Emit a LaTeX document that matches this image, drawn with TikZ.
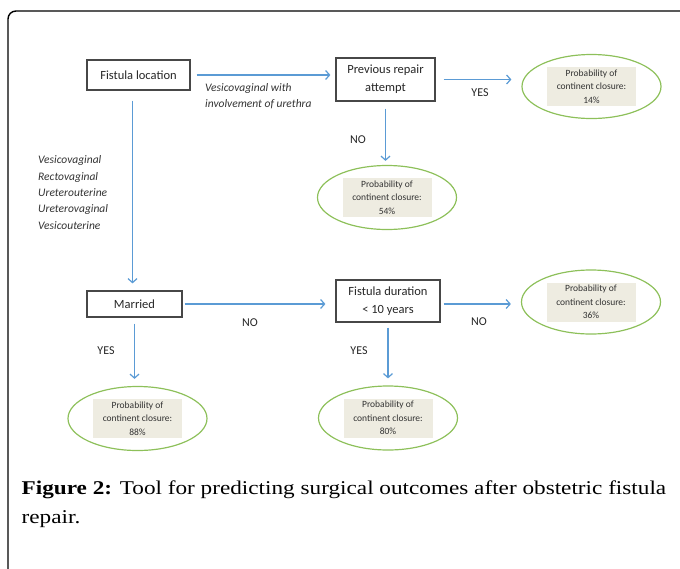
\documentclass[tikz,border=0pt]{standalone}
\usepackage{fontspec}
\setmainfont{Carlito}
\newfontfamily\capfont[FakeStretch=1.19]{Liberation Serif}
\usetikzlibrary{arrows.meta,shapes.geometric}
\definecolor{flowblue}{HTML}{5B9BD5}
\definecolor{probgreen}{HTML}{8DC05A}
\definecolor{probgray}{HTML}{EEECE1}
\begin{document}
\begin{tikzpicture}[x=1pt,y=-1pt,
	decision/.style={draw=black!72,line width=1.2pt,inner sep=0pt,align=center,text=black!85,font=\fontsize{12.5}{18}\selectfont},
	prob/.style={ellipse,draw=probgreen,line width=1.2pt,minimum width=139pt,minimum height=64pt,inner sep=0pt},
	probtext/.style={fill=probgray,minimum width=89pt,minimum height=39pt,inner sep=0pt,align=center,text=black!80,font=\fontsize{9.5}{13.5}\selectfont},
	flow/.style={draw=flowblue,line width=1.2pt,-{Straight Barb[length=4pt,width=9pt]}},
	choice/.style={inner sep=0pt,text=black!85,font=\fontsize{12}{14}\selectfont},
	route/.style={inner sep=0pt,align=left,text=black!80,font=\fontsize{11.5}{16.3}\selectfont\itshape},
	caption/.style={anchor=base west,inner sep=0pt,font=\capfont\fontsize{19.5}{29}\selectfont}]
	\useasboundingbox (0,0) rectangle (680,568);
	\clip (0,0) rectangle (680,568);
	\draw[line width=1.4pt,rounded corners=8pt] (8,11) rectangle (720,620);
	\node[decision,minimum width=103pt,minimum height=30pt] (loc) at (138.5,75) {Fistula location};
	\node[decision,minimum width=99pt,minimum height=43pt] (prev) at (385.5,79.5) {Previous repair\\attempt};
	\node[decision,minimum width=95pt,minimum height=26pt] (mar) at (134.5,304) {Married};
	\node[decision,minimum width=104pt,minimum height=42pt] (dur) at (388,301) {Fistula duration\\< 10 years};
	\node[prob] (p14) at (591.5,86.5) {};
	\node[probtext] (t14) at (p14) {Probability of\\continent closure:\\14\%};
	\node[prob] (p54) at (387,197.5) {};
	\node[probtext] (t54) at (p54) {Probability of\\continent closure:\\54\%};
	\node[prob] (p36) at (591,302) {};
	\node[probtext] (t36) at (p36) {Probability of\\continent closure:\\36\%};
	\node[prob] (p88) at (137.5,418.5) {};
	\node[probtext] (t88) at (p88) {Probability of\\continent closure:\\88\%};
	\node[prob] (p80) at (388,418) {};
	\node[probtext] (t80) at (p80) {Probability of\\continent closure:\\80\%};
	\draw[flow,shorten <=6pt,shorten >=5pt] (loc.east) -- (loc.east -| prev.west);
	\draw[flow,shorten <=8pt,shorten >=10pt] (prev.east) -- (prev.east -| p14.west);
	\draw[flow,shorten <=7pt,shorten >=4pt] (prev.south) -- (prev.south |- p54.north);
	\draw[flow,shorten <=10pt,shorten >=7pt] ([xshift=-6pt]loc.south) -- ([xshift=-6pt]loc.south |- mar.north);
	\draw[flow,shorten <=2pt,shorten >=10pt] (mar.east) -- (mar.east -| dur.west);
	\draw[flow,shorten <=3pt,shorten >=10pt] (dur.east |- mar.east) -- (p36.west |- mar.east);
	\draw[flow,shorten <=6pt,shorten >=7pt] (mar.south) -- (mar.south |- p88.north);
	\draw[flow,shorten <=5pt,shorten >=7pt] (dur.south) -- (dur.south |- p80.north);
	\node[route,anchor=west] (uret) at (205,96) {Vesicovaginal with\\involvement of urethra};
	\node[route,anchor=west] (other) at (38,192.5) {Vesicovaginal\\Rectovaginal\\Ureterouterine\\Ureterovaginal\\Vesicouterine};
	\node[choice] (yes1) at (480,93) {YES};
	\node[choice] (no1) at (358,140) {NO};
	\node[choice] (no2) at (250,323) {NO};
	\node[choice] (yes2) at (106,351) {YES};
	\node[choice] (no3) at (479,322) {NO};
	\node[choice] (yes3) at (359,351) {YES};
	\node[caption] (cap1) at (21.5,494) {\textbf{Figure 2:} Tool for predicting surgical outcomes after obstetric fistula};
	\node[caption] (cap2) at (21.5,523) {repair.};
\end{tikzpicture}
\end{document}
